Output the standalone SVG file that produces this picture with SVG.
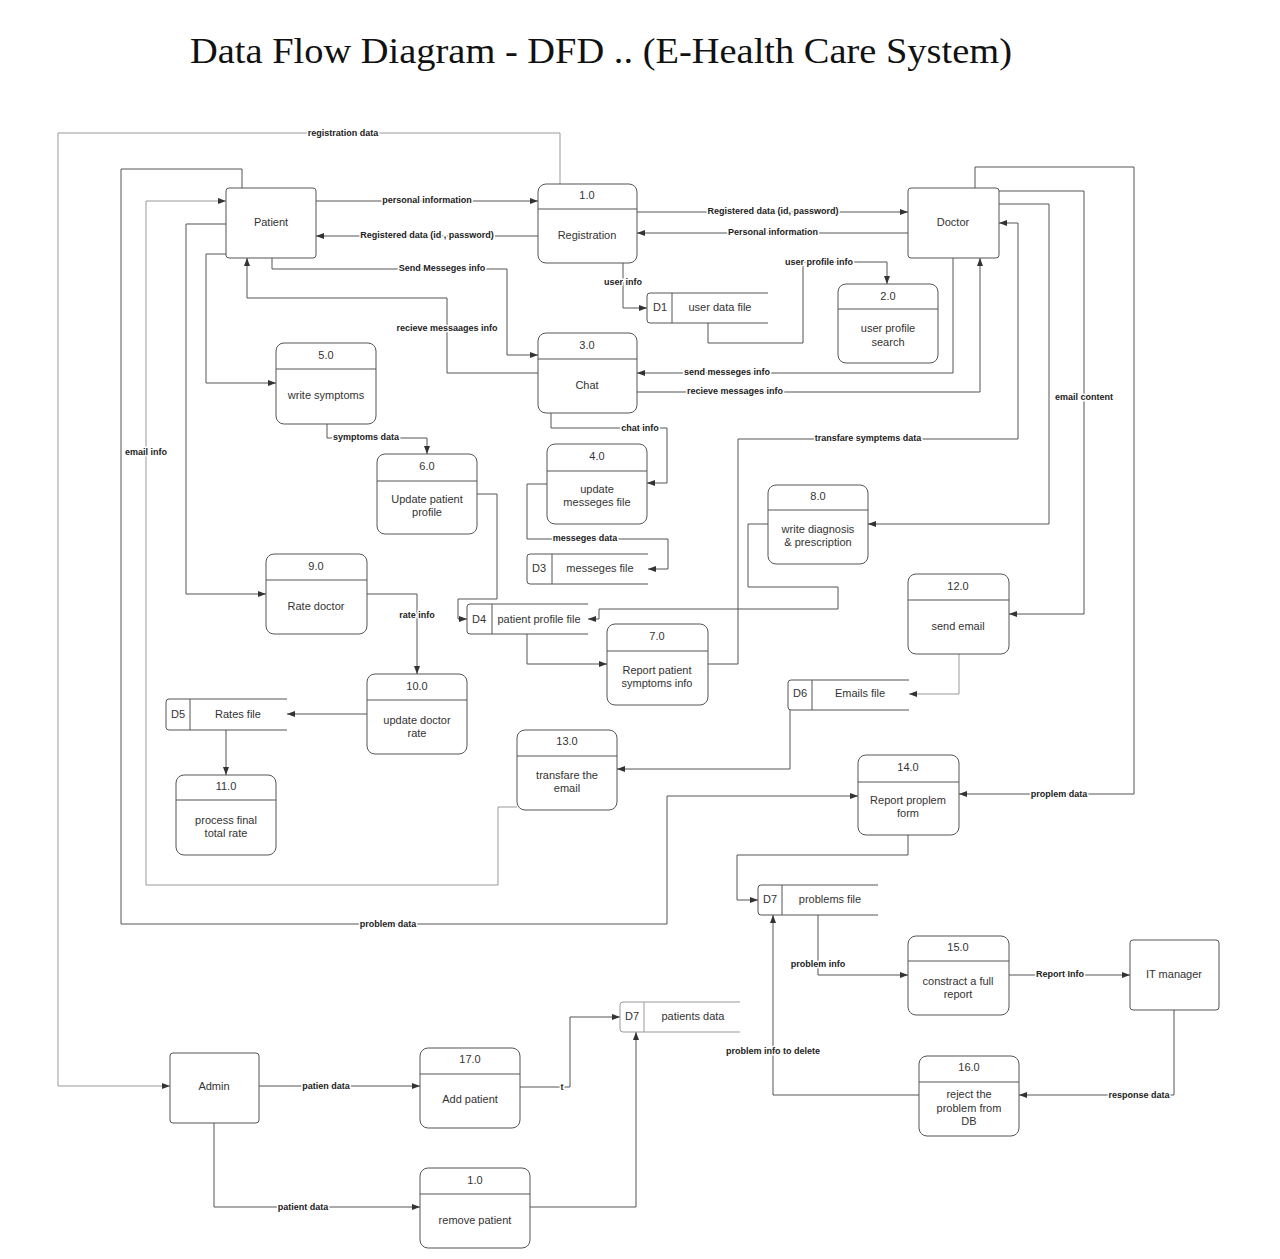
<svg xmlns="http://www.w3.org/2000/svg" width="1280" height="1259" viewBox="0 0 1280 1259">
<style>
.bg{fill:#ffffff}
.ent,.proc,.store{fill:#ffffff;stroke:#555;stroke-width:1}
.dv{stroke:#555;stroke-width:1;fill:none}
.sl{stroke:#555;stroke-width:1;fill:none}
.t{font-family:"Liberation Sans",Arial,sans-serif;font-size:11px;fill:#333;text-anchor:middle}
.c{fill:none;stroke:#555;stroke-width:1;stroke-linejoin:round}
.ca{marker-end:url(#a)}
.lt{stroke:#999}
.lbl{font-family:"Liberation Sans",Arial,sans-serif;font-size:9px;font-weight:bold;fill:#222;text-anchor:middle;stroke:#ffffff;stroke-width:3px;paint-order:stroke;stroke-linejoin:round}
.title{font-family:"Liberation Serif","Times New Roman",serif;font-size:36px;fill:#111}
</style>
<defs>
<marker id="a" markerWidth="8" markerHeight="6" refX="8" refY="3" orient="auto" markerUnits="userSpaceOnUse">
<path d="M0,0 L8,3 L0,6 z" fill="#333"/>
</marker>
</defs>
<rect class="bg" x="0" y="0" width="1280" height="1259"/>
<text class="title" x="190" y="63" textLength="822" lengthAdjust="spacingAndGlyphs">Data Flow Diagram - DFD .. (E-Health Care System)</text>

<g id="connectors">
<path class="c ca lt" d="M560,184 V133 H58 V1086 H170"/>
<path class="c ca" d="M242,188 V169 H121 V924 H667 V796 H858"/>
<path class="c ca lt" d="M517,807 H498 V885 H146 V201 H226"/>
<path class="c ca" d="M226,224 H186 V594 H266"/>
<path class="c ca" d="M226,254 H206 V383 H276"/>
<path class="c ca" d="M538,373 H447 V298 H247 V258"/>
<path class="c ca" d="M272,258 V269 H507 V355 H538"/>
<path class="c ca" d="M316,201 H538"/>
<path class="c ca" d="M538,236 H316"/>
<path class="c ca" d="M637,212 H908"/>
<path class="c ca" d="M908,233 H637"/>
<path class="c ca" d="M623,263 V308 H647"/>
<path class="c ca" d="M708,323 V343 H803 V262 H887 V284"/>
<path class="c ca" d="M953,258 V373 H637"/>
<path class="c ca" d="M637,392 H980 V258"/>
<path class="c ca" d="M551,413 V428 H667 V483 H647"/>
<path class="c ca" d="M547,484 H527 V539 H668 V569 H648"/>
<path class="c ca" d="M327,424 V438 H427 V454"/>
<path class="c ca" d="M477,494 H497 V599 H458 V619 H467"/>
<path class="c ca" d="M768,524 H748 V587 H838 V609 H599 V619 H588"/>
<path class="c ca" d="M527,634 V664 H607"/>
<path class="c ca" d="M708,664 H738 V439 H1018 V223 H999"/>
<path class="c ca" d="M999,204 H1049 V524 H868"/>
<path class="c ca" d="M999,191 H1084 V614 H1009"/>
<path class="c ca" d="M975,188 V167 H1134 V794 H959"/>
<path class="c ca lt" d="M959,654 V694 H909"/>
<path class="c ca" d="M790,710 V769 H617"/>
<path class="c ca" d="M367,594 H417 V674"/>
<path class="c ca" d="M367,714 H287"/>
<path class="c ca" d="M226,730 V775"/>
<path class="c ca" d="M908,835 V855 H737 V900 H758"/>
<path class="c ca" d="M818,915 V975 H908"/>
<path class="c ca" d="M1009,975 H1130"/>
<path class="c ca" d="M1174,1010 V1095 H1019"/>
<path class="c ca" d="M919,1095 H773 V915"/>
<path class="c ca" d="M259,1086 H420"/>
<path class="c ca" d="M520,1087 H570 V1017 H620"/>
<path class="c ca" d="M214,1123 V1207 H420"/>
<path class="c ca" d="M530,1207 H636 V1032"/>

<text class="lbl" x="343" y="136">registration data</text>
<text class="lbl" x="388" y="927">problem data</text>
<text class="lbl" x="146" y="455">email info</text>
<text class="lbl" x="447" y="331">recieve messaages info</text>
<text class="lbl" x="442" y="271">Send Messeges info</text>
<text class="lbl" x="427" y="203">personal information</text>
<text class="lbl" x="427" y="238">Registered data (id , password)</text>
<text class="lbl" x="773" y="214">Registered data (id, password)</text>
<text class="lbl" x="773" y="235">Personal information</text>
<text class="lbl" x="623" y="285">user info</text>
<text class="lbl" x="819" y="265">user profile info</text>
<text class="lbl" x="727" y="375">send messeges info</text>
<text class="lbl" x="735" y="394">recieve messages info</text>
<text class="lbl" x="640" y="431">chat info</text>
<text class="lbl" x="585" y="541">messeges data</text>
<text class="lbl" x="366" y="440">symptoms data</text>
<text class="lbl" x="868" y="441">transfare symptems data</text>
<text class="lbl" x="1084" y="400">email content</text>
<text class="lbl" x="1059" y="797">proplem data</text>
<text class="lbl" x="417" y="618">rate info</text>
<text class="lbl" x="818" y="967">problem info</text>
<text class="lbl" x="1060" y="977">Report Info</text>
<text class="lbl" x="1139" y="1098">response data</text>
<text class="lbl" x="773" y="1054">problem info to delete</text>
<text class="lbl" x="326" y="1089">patien data</text>
<text class="lbl" x="562" y="1090">t</text>
<text class="lbl" x="303" y="1210">patient data</text>
</g>

<g id="patient"><rect class="ent" x="226" y="188" width="90" height="70" rx="3"/><text class="t" x="271" y="226">Patient</text></g>
<g id="doctor"><rect class="ent" x="908" y="188" width="91" height="70" rx="3"/><text class="t" x="953" y="226">Doctor</text></g>
<g id="admin"><rect class="ent" x="170" y="1053" width="89" height="70" rx="3"/><text class="t" x="214" y="1090">Admin</text></g>
<g id="it-manager"><rect class="ent" x="1130" y="940" width="89" height="70" rx="3"/><text class="t" x="1174" y="978">IT manager</text></g>

<g id="p1"><rect class="proc" x="538" y="184" width="99" height="79" rx="8"/><path class="dv" d="M538,209 H637"/><text class="t" x="587" y="199">1.0</text><text class="t" x="587" y="239">Registration</text></g>
<g id="p2"><rect class="proc" x="838" y="284" width="100" height="79" rx="8"/><path class="dv" d="M838,309 H938"/><text class="t" x="888" y="300">2.0</text><text class="t" x="888" y="332">user profile</text><text class="t" x="888" y="346">search</text></g>
<g id="p3"><rect class="proc" x="538" y="333" width="99" height="80" rx="8"/><path class="dv" d="M538,359 H637"/><text class="t" x="587" y="349">3.0</text><text class="t" x="587" y="389">Chat</text></g>
<g id="p4"><rect class="proc" x="547" y="444" width="100" height="80" rx="8"/><path class="dv" d="M547,471 H647"/><text class="t" x="597" y="460">4.0</text><text class="t" x="597" y="493">update</text><text class="t" x="597" y="506">messeges file</text></g>
<g id="p5"><rect class="proc" x="276" y="343" width="100" height="81" rx="8"/><path class="dv" d="M276,369 H376"/><text class="t" x="326" y="359">5.0</text><text class="t" x="326" y="399">write symptoms</text></g>
<g id="p6"><rect class="proc" x="377" y="454" width="100" height="80" rx="8"/><path class="dv" d="M377,481 H477"/><text class="t" x="427" y="470">6.0</text><text class="t" x="427" y="503">Update patient</text><text class="t" x="427" y="516">profile</text></g>
<g id="p7"><rect class="proc" x="607" y="624" width="101" height="81" rx="8"/><path class="dv" d="M607,651 H708"/><text class="t" x="657" y="640">7.0</text><text class="t" x="657" y="674">Report patient</text><text class="t" x="657" y="687">symptoms info</text></g>
<g id="p8"><rect class="proc" x="768" y="485" width="100" height="79" rx="8"/><path class="dv" d="M768,510 H868"/><text class="t" x="818" y="500">8.0</text><text class="t" x="818" y="533">write diagnosis</text><text class="t" x="818" y="546">&amp; prescription</text></g>
<g id="p9"><rect class="proc" x="266" y="554" width="101" height="80" rx="8"/><path class="dv" d="M266,580 H367"/><text class="t" x="316" y="570">9.0</text><text class="t" x="316" y="610">Rate doctor</text></g>
<g id="p10"><rect class="proc" x="367" y="674" width="100" height="80" rx="8"/><path class="dv" d="M367,700 H467"/><text class="t" x="417" y="690">10.0</text><text class="t" x="417" y="724">update doctor</text><text class="t" x="417" y="737">rate</text></g>
<g id="p11"><rect class="proc" x="176" y="775" width="100" height="80" rx="8"/><path class="dv" d="M176,800 H276"/><text class="t" x="226" y="790">11.0</text><text class="t" x="226" y="824">process final</text><text class="t" x="226" y="837">total rate</text></g>
<g id="p12"><rect class="proc" x="908" y="574" width="101" height="80" rx="8"/><path class="dv" d="M908,600 H1009"/><text class="t" x="958" y="590">12.0</text><text class="t" x="958" y="630">send email</text></g>
<g id="p13"><rect class="proc" x="517" y="730" width="100" height="80" rx="8"/><path class="dv" d="M517,756 H617"/><text class="t" x="567" y="745">13.0</text><text class="t" x="567" y="779">transfare the</text><text class="t" x="567" y="792">email</text></g>
<g id="p14"><rect class="proc" x="858" y="755" width="101" height="80" rx="8"/><path class="dv" d="M858,782 H959"/><text class="t" x="908" y="771">14.0</text><text class="t" x="908" y="804">Report proplem</text><text class="t" x="908" y="817">form</text></g>
<g id="p15"><rect class="proc" x="908" y="936" width="101" height="79" rx="8"/><path class="dv" d="M908,961 H1009"/><text class="t" x="958" y="951">15.0</text><text class="t" x="958" y="985">constract a full</text><text class="t" x="958" y="998">report</text></g>
<g id="p16"><rect class="proc" x="919" y="1056" width="100" height="80" rx="8"/><path class="dv" d="M919,1082 H1019"/><text class="t" x="969" y="1071">16.0</text><text class="t" x="969" y="1098">reject the</text><text class="t" x="969" y="1112">problem from</text><text class="t" x="969" y="1125">DB</text></g>
<g id="p17"><rect class="proc" x="420" y="1048" width="100" height="80" rx="8"/><path class="dv" d="M420,1074 H520"/><text class="t" x="470" y="1063">17.0</text><text class="t" x="470" y="1103">Add patient</text></g>
<g id="p1-remove"><rect class="proc" x="420" y="1168" width="110" height="80" rx="8"/><path class="dv" d="M420,1194 H530"/><text class="t" x="475" y="1184">1.0</text><text class="t" x="475" y="1224">remove patient</text></g>

<g id="d1"><path class="sl" d="M768,293 H650 Q647,293 647,296 V320 Q647,323 650,323 H768 M672,293 V323"/><text class="t" x="660" y="311">D1</text><text class="t" x="720" y="311">user data file</text></g>
<g id="d3"><path class="sl" d="M648,554 H530 Q527,554 527,557 V581 Q527,584 530,584 H648 M552,554 V584"/><text class="t" x="539" y="572">D3</text><text class="t" x="600" y="572">messeges file</text></g>
<g id="d4"><path class="sl" d="M588,604 H470 Q467,604 467,607 V631 Q467,634 470,634 H588 M492,604 V634"/><text class="t" x="479" y="623">D4</text><text class="t" x="539" y="623">patient profile file</text></g>
<g id="d5"><path class="sl" d="M287,699 H169 Q166,699 166,702 V727 Q166,730 169,730 H287 M190,699 V730"/><text class="t" x="178" y="718">D5</text><text class="t" x="238" y="718">Rates file</text></g>
<g id="d6"><path class="sl" d="M909,680 H791 Q788,680 788,683 V707 Q788,710 791,710 H909 M812,680 V710"/><text class="t" x="800" y="697">D6</text><text class="t" x="860" y="697">Emails file</text></g>
<g id="d7-problems"><path class="sl" d="M878,885 H761 Q758,885 758,888 V912 Q758,915 761,915 H878 M782,885 V915"/><text class="t" x="770" y="903">D7</text><text class="t" x="830" y="903">problems file</text></g>
<g id="d7-patients"><path class="sl lt" d="M740,1002 H623 Q620,1002 620,1005 V1029 Q620,1032 623,1032 H740 M644,1002 V1032"/><text class="t" x="632" y="1020">D7</text><text class="t" x="693" y="1020">patients data</text></g>
</svg>
